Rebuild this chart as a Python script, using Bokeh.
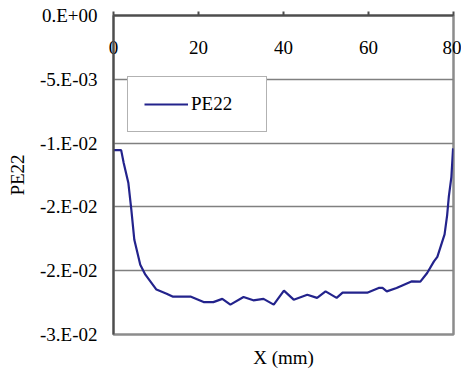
from bokeh.plotting import figure
from bokeh.models import (Range1d, LinearAxis, FixedTicker, Legend, LegendItem)
from bokeh.embed import file_html
from bokeh.resources import INLINE

# Strain component PE22 along the specimen length
x_mm = [0, 1.8, 2.4, 3.5, 4.2, 4.9, 6.3, 7.5, 10.1, 12.5, 13.9, 18.1, 21.2, 23.5,
        25.6, 27.5, 30.6, 32.9, 35.3, 37.7, 40.1, 42.4, 45.6, 47.9, 49.9, 52.5,
        53.9, 59.7, 62.4, 63.3, 64.3, 66.6, 70.1, 72.2, 73.8, 75.4, 76.2, 77.9,
        78.5, 78.9, 79.5, 79.9]
pe22 = [-0.01055, -0.01055, -0.01156, -0.01313, -0.01523, -0.01758, -0.01953,
        -0.02031, -0.02148, -0.02180, -0.02203, -0.02203, -0.02246, -0.02246,
        -0.02221, -0.02266, -0.02206, -0.02232, -0.02221, -0.02266, -0.02156,
        -0.02227, -0.02188, -0.02213, -0.02162, -0.02213, -0.02172, -0.02172,
        -0.02135, -0.02135, -0.02162, -0.02135, -0.02084, -0.02086, -0.02018,
        -0.01927, -0.01891, -0.01715, -0.01566, -0.01420, -0.01266, -0.01041]

x_ticks = [0, 20, 40, 60, 80]
y_ticks = [0, -0.005, -0.01, -0.015, -0.02, -0.025]
y_tick_labels = ["0.E+00", "-5.E-03", "-1.E-02", "-2.E-02", "-2.E-02", "-3.E-02"]

FONT = "Liberation Serif"
FS = "19px"

p = figure(width=461, height=370, output_backend="svg", toolbar_location=None,
           x_range=Range1d(0, 80), y_range=Range1d(-0.025, 0),
           x_axis_location=None, y_axis_location=None,
           min_border_left=113, min_border_right=8,
           min_border_top=15, min_border_bottom=35)
p.background_fill_color = "white"
p.border_fill_color = "white"
p.outline_line_color = "#8c8c8c"
p.outline_line_width = 2.5

# Left value axis
yax = LinearAxis(ticker=FixedTicker(ticks=y_ticks),
                 major_label_overrides=dict(zip(y_ticks, y_tick_labels)),
                 axis_label="PE22")
yax.axis_line_color = "#4d4d4d"
yax.axis_line_width = 2
yax.major_tick_out = 0
yax.major_tick_in = 0
yax.minor_tick_line_color = None
yax.major_label_standoff = 16
yax.major_label_text_font = FONT
yax.major_label_text_font_size = FS
yax.major_label_text_color = "black"
yax.axis_label_text_font = FONT
yax.axis_label_text_font_size = FS
yax.axis_label_text_font_style = "normal"
yax.axis_label_text_color = "black"
yax.axis_label_standoff = 9
p.add_layout(yax, "left")

# Horizontal axis sitting at the zero line, labels drawn inside the frame
xax = LinearAxis(ticker=FixedTicker(ticks=x_ticks))
xax.axis_line_color = "#4d4d4d"
xax.axis_line_width = 2
xax.major_tick_line_color = "#4d4d4d"
xax.major_tick_line_width = 2
xax.major_tick_out = 4
xax.major_tick_in = 0
xax.minor_tick_line_color = None
xax.major_label_standoff = -42
xax.major_label_text_font = FONT
xax.major_label_text_font_size = FS
xax.major_label_text_color = "black"
p.add_layout(xax, "above")

# Axis title beneath the frame
bax = LinearAxis(ticker=FixedTicker(ticks=[]), axis_label="X (mm)")
bax.axis_line_color = None
bax.major_tick_out = 0
bax.major_tick_in = 0
bax.minor_tick_line_color = None
bax.major_label_text_font_size = "0px"
bax.axis_label_text_font = FONT
bax.axis_label_text_font_size = FS
bax.axis_label_text_font_style = "normal"
bax.axis_label_text_color = "black"
bax.axis_label_standoff = 12
p.add_layout(bax, "below")

p.ygrid.ticker = FixedTicker(ticks=y_ticks)
p.ygrid.grid_line_color = "#808080"
p.ygrid.grid_line_width = 1.5
p.xgrid.grid_line_color = None

r = p.line(x_mm, pe22, line_color="#23238c", line_width=2.2)

legend = Legend(items=[LegendItem(label="PE22", renderers=[r])],
                location=(14, 202), padding=16, margin=0,
                glyph_width=44, label_width=59, label_standoff=3,
                label_text_font=FONT, label_text_font_size=FS,
                label_text_color="black",
                border_line_color="#666666", border_line_width=1.5,
                background_fill_color="white", background_fill_alpha=1)
p.add_layout(legend, "center")

open("out.html", "w").write(file_html(p, INLINE))
